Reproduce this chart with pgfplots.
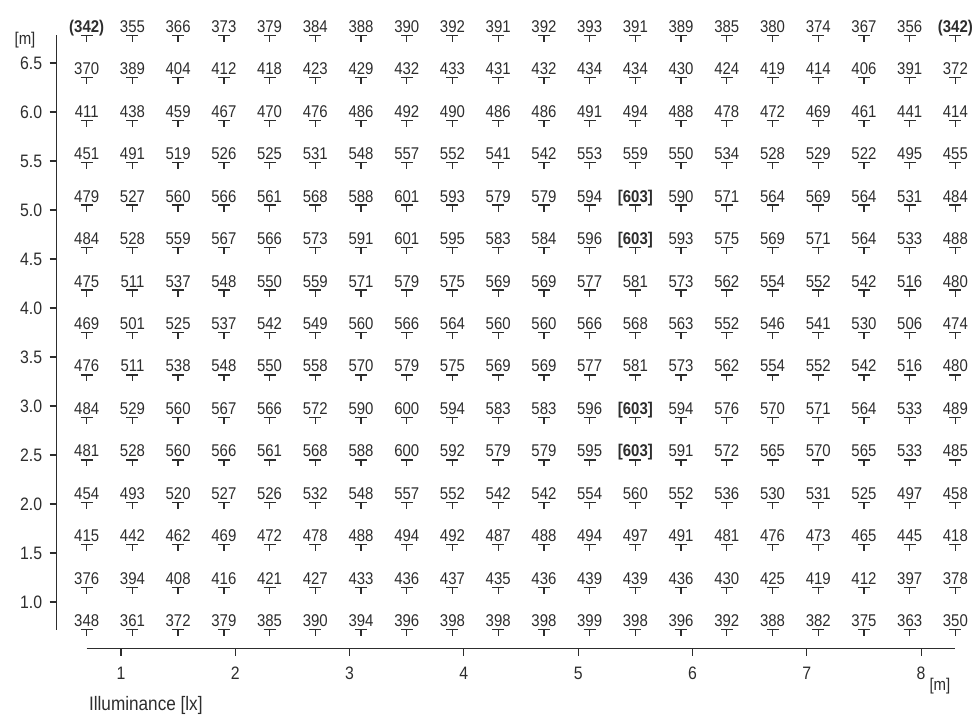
\documentclass[border=0pt]{standalone}
\usepackage{fontspec}
\setmainfont[FakeStretch=0.88]{Liberation Sans}
\usepackage{pgfplots}
\pgfplotsset{compat=1.18}
\definecolor{ink}{RGB}{45,45,45}

% calculation point symbol: short bar with a stem below
\pgfdeclareplotmark{lumT}{%
  \pgfpathmoveto{\pgfqpoint{-6pt}{0pt}}%
  \pgfpathlineto{\pgfqpoint{6pt}{0pt}}%
  \pgfpathmoveto{\pgfqpoint{0pt}{0pt}}%
  \pgfpathlineto{\pgfqpoint{0pt}{-6.5pt}}%
  \pgfusepathqstroke}

\pgfplotsset{
  lux/.style={only marks, mark=lumT, mark options={draw=ink, line width=1.3pt},
    point meta=explicit, nodes near coords,
    every node near coord/.style={anchor=base, yshift=3pt, inner sep=0pt,
      font=\fontsize{17}{19}\selectfont, text=ink}},
  luxmin/.style={lux, nodes near coords={(\pgfmathprintnumber{\pgfplotspointmeta})},
    every node near coord/.append style={font=\fontsize{17}{19}\selectfont\bfseries}},
  luxmax/.style={lux, nodes near coords={[\pgfmathprintnumber{\pgfplotspointmeta}]},
    every node near coord/.append style={font=\fontsize{17}{19}\selectfont\bfseries}},
}

\begin{document}
\begin{tikzpicture}
\begin{axis}[
  x=114.3pt, y=98pt,
  xmin=0.7, xmax=8.3, ymin=0.7167, ymax=6.7833,
  clip=false,
  axis x line*=bottom, axis y line*=left,
  axis x line shift=19pt, axis y line shift=30pt,
  axis line style={draw=ink, line width=1.3pt, -},
  xtick={1,2,3,4,5,6,7,8},
  ytick={1.0,1.5,2.0,2.5,3.0,3.5,4.0,4.5,5.0,5.5,6.0,6.5},
  tick align=outside, major tick length=7pt,
  tick style={draw=ink, line width=1.1pt},
  /pgf/number format/assume math mode=true,
  ticklabel style={font=\fontsize{18}{20}\selectfont, text=ink},
  x tick label style={yshift=-8pt},
  y tick label style={xshift=-4pt, /pgf/number format/.cd, fixed, fixed zerofill, precision=1, /tikz/.cd},
]
% illuminance at each calculation point [lx]
\addplot[lux] coordinates {(1.1,6.7833)[355] (1.5,6.7833)[366] (1.9,6.7833)[373] (2.3,6.7833)[379] (2.7,6.7833)[384] (3.1,6.7833)[388] (3.5,6.7833)[390] (3.9,6.7833)[392] (4.3,6.7833)[391] (4.7,6.7833)[392] (5.1,6.7833)[393] (5.5,6.7833)[391] (5.9,6.7833)[389] (6.3,6.7833)[385] (6.7,6.7833)[380] (7.1,6.7833)[374] (7.5,6.7833)[367] (7.9,6.7833)[356]};
\addplot[lux] coordinates {(0.7,6.35)[370] (1.1,6.35)[389] (1.5,6.35)[404] (1.9,6.35)[412] (2.3,6.35)[418] (2.7,6.35)[423] (3.1,6.35)[429] (3.5,6.35)[432] (3.9,6.35)[433] (4.3,6.35)[431] (4.7,6.35)[432] (5.1,6.35)[434] (5.5,6.35)[434] (5.9,6.35)[430] (6.3,6.35)[424] (6.7,6.35)[419] (7.1,6.35)[414] (7.5,6.35)[406] (7.9,6.35)[391] (8.3,6.35)[372]};
\addplot[lux] coordinates {(0.7,5.9167)[411] (1.1,5.9167)[438] (1.5,5.9167)[459] (1.9,5.9167)[467] (2.3,5.9167)[470] (2.7,5.9167)[476] (3.1,5.9167)[486] (3.5,5.9167)[492] (3.9,5.9167)[490] (4.3,5.9167)[486] (4.7,5.9167)[486] (5.1,5.9167)[491] (5.5,5.9167)[494] (5.9,5.9167)[488] (6.3,5.9167)[478] (6.7,5.9167)[472] (7.1,5.9167)[469] (7.5,5.9167)[461] (7.9,5.9167)[441] (8.3,5.9167)[414]};
\addplot[lux] coordinates {(0.7,5.4833)[451] (1.1,5.4833)[491] (1.5,5.4833)[519] (1.9,5.4833)[526] (2.3,5.4833)[525] (2.7,5.4833)[531] (3.1,5.4833)[548] (3.5,5.4833)[557] (3.9,5.4833)[552] (4.3,5.4833)[541] (4.7,5.4833)[542] (5.1,5.4833)[553] (5.5,5.4833)[559] (5.9,5.4833)[550] (6.3,5.4833)[534] (6.7,5.4833)[528] (7.1,5.4833)[529] (7.5,5.4833)[522] (7.9,5.4833)[495] (8.3,5.4833)[455]};
\addplot[lux] coordinates {(0.7,5.05)[479] (1.1,5.05)[527] (1.5,5.05)[560] (1.9,5.05)[566] (2.3,5.05)[561] (2.7,5.05)[568] (3.1,5.05)[588] (3.5,5.05)[601] (3.9,5.05)[593] (4.3,5.05)[579] (4.7,5.05)[579] (5.1,5.05)[594] (5.9,5.05)[590] (6.3,5.05)[571] (6.7,5.05)[564] (7.1,5.05)[569] (7.5,5.05)[564] (7.9,5.05)[531] (8.3,5.05)[484]};
\addplot[lux] coordinates {(0.7,4.6167)[484] (1.1,4.6167)[528] (1.5,4.6167)[559] (1.9,4.6167)[567] (2.3,4.6167)[566] (2.7,4.6167)[573] (3.1,4.6167)[591] (3.5,4.6167)[601] (3.9,4.6167)[595] (4.3,4.6167)[583] (4.7,4.6167)[584] (5.1,4.6167)[596] (5.9,4.6167)[593] (6.3,4.6167)[575] (6.7,4.6167)[569] (7.1,4.6167)[571] (7.5,4.6167)[564] (7.9,4.6167)[533] (8.3,4.6167)[488]};
\addplot[lux] coordinates {(0.7,4.1833)[475] (1.1,4.1833)[511] (1.5,4.1833)[537] (1.9,4.1833)[548] (2.3,4.1833)[550] (2.7,4.1833)[559] (3.1,4.1833)[571] (3.5,4.1833)[579] (3.9,4.1833)[575] (4.3,4.1833)[569] (4.7,4.1833)[569] (5.1,4.1833)[577] (5.5,4.1833)[581] (5.9,4.1833)[573] (6.3,4.1833)[562] (6.7,4.1833)[554] (7.1,4.1833)[552] (7.5,4.1833)[542] (7.9,4.1833)[516] (8.3,4.1833)[480]};
\addplot[lux] coordinates {(0.7,3.75)[469] (1.1,3.75)[501] (1.5,3.75)[525] (1.9,3.75)[537] (2.3,3.75)[542] (2.7,3.75)[549] (3.1,3.75)[560] (3.5,3.75)[566] (3.9,3.75)[564] (4.3,3.75)[560] (4.7,3.75)[560] (5.1,3.75)[566] (5.5,3.75)[568] (5.9,3.75)[563] (6.3,3.75)[552] (6.7,3.75)[546] (7.1,3.75)[541] (7.5,3.75)[530] (7.9,3.75)[506] (8.3,3.75)[474]};
\addplot[lux] coordinates {(0.7,3.3167)[476] (1.1,3.3167)[511] (1.5,3.3167)[538] (1.9,3.3167)[548] (2.3,3.3167)[550] (2.7,3.3167)[558] (3.1,3.3167)[570] (3.5,3.3167)[579] (3.9,3.3167)[575] (4.3,3.3167)[569] (4.7,3.3167)[569] (5.1,3.3167)[577] (5.5,3.3167)[581] (5.9,3.3167)[573] (6.3,3.3167)[562] (6.7,3.3167)[554] (7.1,3.3167)[552] (7.5,3.3167)[542] (7.9,3.3167)[516] (8.3,3.3167)[480]};
\addplot[lux] coordinates {(0.7,2.8833)[484] (1.1,2.8833)[529] (1.5,2.8833)[560] (1.9,2.8833)[567] (2.3,2.8833)[566] (2.7,2.8833)[572] (3.1,2.8833)[590] (3.5,2.8833)[600] (3.9,2.8833)[594] (4.3,2.8833)[583] (4.7,2.8833)[583] (5.1,2.8833)[596] (5.9,2.8833)[594] (6.3,2.8833)[576] (6.7,2.8833)[570] (7.1,2.8833)[571] (7.5,2.8833)[564] (7.9,2.8833)[533] (8.3,2.8833)[489]};
\addplot[lux] coordinates {(0.7,2.45)[481] (1.1,2.45)[528] (1.5,2.45)[560] (1.9,2.45)[566] (2.3,2.45)[561] (2.7,2.45)[568] (3.1,2.45)[588] (3.5,2.45)[600] (3.9,2.45)[592] (4.3,2.45)[579] (4.7,2.45)[579] (5.1,2.45)[595] (5.9,2.45)[591] (6.3,2.45)[572] (6.7,2.45)[565] (7.1,2.45)[570] (7.5,2.45)[565] (7.9,2.45)[533] (8.3,2.45)[485]};
\addplot[lux] coordinates {(0.7,2.0167)[454] (1.1,2.0167)[493] (1.5,2.0167)[520] (1.9,2.0167)[527] (2.3,2.0167)[526] (2.7,2.0167)[532] (3.1,2.0167)[548] (3.5,2.0167)[557] (3.9,2.0167)[552] (4.3,2.0167)[542] (4.7,2.0167)[542] (5.1,2.0167)[554] (5.5,2.0167)[560] (5.9,2.0167)[552] (6.3,2.0167)[536] (6.7,2.0167)[530] (7.1,2.0167)[531] (7.5,2.0167)[525] (7.9,2.0167)[497] (8.3,2.0167)[458]};
\addplot[lux] coordinates {(0.7,1.5833)[415] (1.1,1.5833)[442] (1.5,1.5833)[462] (1.9,1.5833)[469] (2.3,1.5833)[472] (2.7,1.5833)[478] (3.1,1.5833)[488] (3.5,1.5833)[494] (3.9,1.5833)[492] (4.3,1.5833)[487] (4.7,1.5833)[488] (5.1,1.5833)[494] (5.5,1.5833)[497] (5.9,1.5833)[491] (6.3,1.5833)[481] (6.7,1.5833)[476] (7.1,1.5833)[473] (7.5,1.5833)[465] (7.9,1.5833)[445] (8.3,1.5833)[418]};
\addplot[lux] coordinates {(0.7,1.15)[376] (1.1,1.15)[394] (1.5,1.15)[408] (1.9,1.15)[416] (2.3,1.15)[421] (2.7,1.15)[427] (3.1,1.15)[433] (3.5,1.15)[436] (3.9,1.15)[437] (4.3,1.15)[435] (4.7,1.15)[436] (5.1,1.15)[439] (5.5,1.15)[439] (5.9,1.15)[436] (6.3,1.15)[430] (6.7,1.15)[425] (7.1,1.15)[419] (7.5,1.15)[412] (7.9,1.15)[397] (8.3,1.15)[378]};
\addplot[lux] coordinates {(0.7,0.7167)[348] (1.1,0.7167)[361] (1.5,0.7167)[372] (1.9,0.7167)[379] (2.3,0.7167)[385] (2.7,0.7167)[390] (3.1,0.7167)[394] (3.5,0.7167)[396] (3.9,0.7167)[398] (4.3,0.7167)[398] (4.7,0.7167)[398] (5.1,0.7167)[399] (5.5,0.7167)[398] (5.9,0.7167)[396] (6.3,0.7167)[392] (6.7,0.7167)[388] (7.1,0.7167)[382] (7.5,0.7167)[375] (7.9,0.7167)[363] (8.3,0.7167)[350]};
% minimum and maximum values
\addplot[luxmin] coordinates {(0.7,6.7833)[342] (8.3,6.7833)[342]};
\addplot[luxmax] coordinates {(5.5,5.05)[603] (5.5,4.6167)[603] (5.5,2.8833)[603] (5.5,2.45)[603]};

\node[text=ink, font=\fontsize{17}{19}\selectfont] at (axis cs:0.16,6.735) {[m]};
\node[text=ink, font=\fontsize{17}{19}\selectfont] at (axis cs:8.165,0.143) {[m]};
\node[text=ink, anchor=west, font=\fontsize{19.5}{22}\selectfont] at (axis cs:0.69,-0.051) {Illuminance [lx]};

\coordinate (bbSW) at (axis cs:-0.0586,-0.1735);
\coordinate (bbNE) at (axis cs:8.4628,7.1429);
\end{axis}
\pgfresetboundingbox
\useasboundingbox (bbSW) rectangle (bbNE);
\end{tikzpicture}
\end{document}
